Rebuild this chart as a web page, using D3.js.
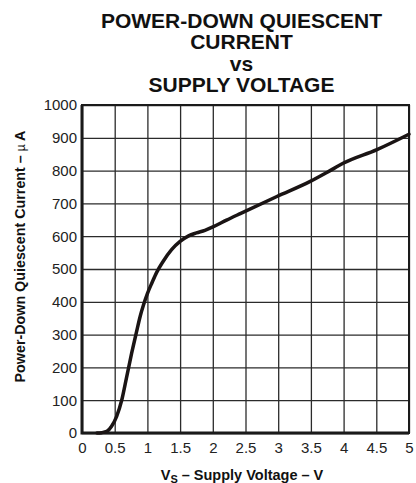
<!DOCTYPE html>
<html>
<head>
<meta charset="utf-8">
<script src="https://cdn.jsdelivr.net/npm/d3@7"></script>
<style>
  html, body { margin: 0; padding: 0; background: #fff; }
  svg { display: block; font-family: "Liberation Sans", Arial, Helvetica, sans-serif; }
</style>
</head>
<body>
<svg id="chart" width="416" height="483"></svg>
<script>
// Supply voltage (V) and power-down quiescent current (µA)
const supplyVoltage = [0.23, 0.30, 0.38, 0.45, 0.53, 0.61, 0.68, 0.76, 0.83, 0.89, 0.94, 1.00, 1.07, 1.14, 1.24, 1.37, 1.50, 1.63, 1.75, 1.88, 2.01, 2.21, 2.42, 2.98, 3.49, 3.75, 4.00, 4.51, 5.00];
const quiescentCurrent = [0, 1, 5, 20, 51, 102, 168, 244, 305, 356, 390, 425, 458, 489, 523, 559, 584, 601, 610, 618, 629, 649, 669, 721, 767, 795, 823, 864, 911];

const xTicks = [0, 0.5, 1, 1.5, 2, 2.5, 3, 3.5, 4, 4.5, 5];
const yTicks = [0, 100, 200, 300, 400, 500, 600, 700, 800, 900, 1000];

const titleLines = ["POWER-DOWN QUIESCENT", "CURRENT", "vs", "SUPPLY VOLTAGE"];

const svg = d3.select("#chart");
const plot = { left: 82, right: 409, top: 105, bottom: 433 };

const x = d3.scaleLinear().domain([0, 5]).range([plot.left, plot.right]);
const y = d3.scaleLinear().domain([0, 1000]).range([plot.bottom, plot.top]);

// Title
svg.append("g")
  .selectAll("text")
  .data(titleLines)
  .join("text")
  .attr("x", 241.5)
  .attr("y", (d, i) => 28.3 + i * 21.1)
  .attr("text-anchor", "middle")
  .attr("font-size", 21)
  .attr("font-weight", "bold")
  .attr("fill", "#111")
  .text(d => d);

// Grid + tick labels
const xAxis = svg.append("g")
  .attr("transform", `translate(0,${plot.bottom})`)
  .call(d3.axisBottom(x).tickValues(xTicks).tickFormat(d3.format("")).tickSize(-(plot.bottom - plot.top)).tickPadding(9));
const yAxis = svg.append("g")
  .attr("transform", `translate(${plot.left},0)`)
  .call(d3.axisLeft(y).tickValues(yTicks).tickFormat(d3.format("")).tickSize(-(plot.right - plot.left)).tickPadding(5));

[xAxis, yAxis].forEach(g => {
  g.select(".domain").remove();
  g.selectAll(".tick line").attr("stroke", "#2b2b2b").attr("stroke-width", 1.3);
  g.selectAll(".tick text")
    .attr("font-family", "'Liberation Sans', Arial, sans-serif")
    .attr("font-size", 15)
    .attr("fill", "#222");
});

// Frame
svg.append("rect")
  .attr("x", plot.left).attr("y", plot.top)
  .attr("width", plot.right - plot.left).attr("height", plot.bottom - plot.top)
  .attr("fill", "none").attr("stroke", "#1a1a1a").attr("stroke-width", 2);
svg.append("path")
  .attr("d", `M${plot.left},${plot.top}V${plot.bottom}H${plot.right}`)
  .attr("fill", "none").attr("stroke", "#1a1a1a").attr("stroke-width", 3);

// Curve
const pts = supplyVoltage.map((v, i) => [v, quiescentCurrent[i]]);
svg.append("path")
  .datum(pts)
  .attr("fill", "none")
  .attr("stroke", "#1a1414")
  .attr("stroke-width", 3.5)
  .attr("stroke-linecap", "round")
  .attr("stroke-linejoin", "round")
  .attr("d", d3.line().x(d => x(d[0])).y(d => y(d[1])).curve(d3.curveMonotoneX));

// X axis title
const xt = svg.append("text")
  .attr("x", 242).attr("y", 479.5)
  .attr("text-anchor", "middle")
  .attr("font-size", 14.5)
  .attr("font-weight", "bold")
  .attr("fill", "#111");
xt.append("tspan").text("V");
xt.append("tspan").attr("font-size", 11).attr("dy", 3).text("S");
xt.append("tspan").attr("dy", -3).text(" – Supply Voltage – V");

// Y axis title
const yt = svg.append("text")
  .attr("transform", "translate(24.5,256.5) rotate(-90)")
  .attr("text-anchor", "middle")
  .attr("font-size", 14.3)
  .attr("font-weight", "bold")
  .attr("fill", "#111");
yt.append("tspan").text("Power-Down Quiescent Current – ");
yt.append("tspan").attr("font-weight", "normal").attr("font-size", 12).text("µ");
yt.append("tspan").text(" A");
</script>
</body>
</html>
